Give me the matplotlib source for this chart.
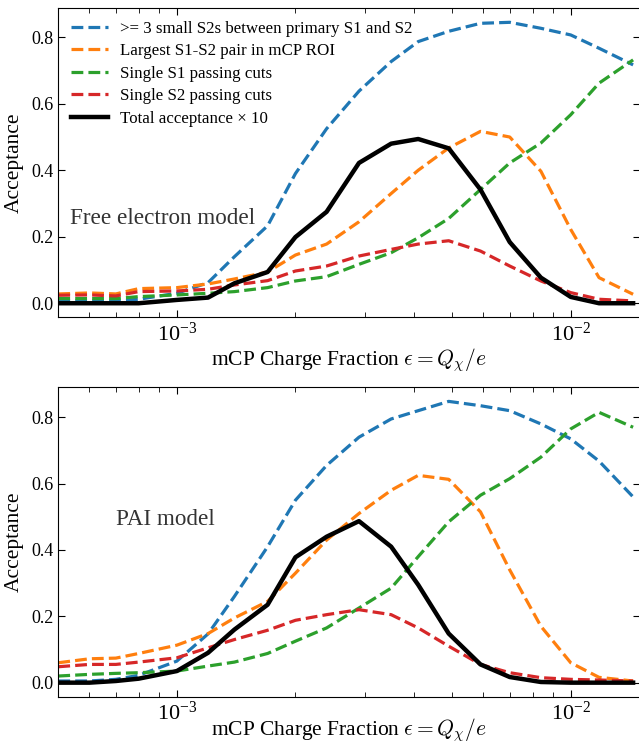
import matplotlib
matplotlib.use("Agg")
import matplotlib.pyplot as plt

plt.rcParams['font.family'] = 'serif'
plt.rcParams['font.serif'] = ['Liberation Serif', 'DejaVu Serif']
plt.rcParams['mathtext.fontset'] = 'cm'

# mCP charge fraction grid
eps = [0.0005, 0.0006, 0.0007, 0.0008, 0.001, 0.0012, 0.0014, 0.0017, 0.002, 0.0024,
       0.0029, 0.0035, 0.0041, 0.0049, 0.0059, 0.007, 0.0084, 0.01, 0.0118, 0.0144]

labels = [">= 3 small S2s between primary S1 and S2",
          "Largest S1-S2 pair in mCP ROI",
          "Single S1 passing cuts",
          "Single S2 passing cuts",
          "Total acceptance × 10"]

# free electron model
blue_fe = [0.007, 0.007, 0.007, 0.012, 0.03, 0.062, 0.14, 0.233, 0.39, 0.525,
           0.638, 0.727, 0.787, 0.818, 0.842, 0.845, 0.827, 0.807, 0.767, 0.717]
orange_fe = [0.028, 0.031, 0.028, 0.044, 0.047, 0.058, 0.073, 0.094, 0.145, 0.178,
             0.245, 0.33, 0.40, 0.467, 0.517, 0.50, 0.397, 0.222, 0.077, 0.027]
green_fe = [0.014, 0.014, 0.014, 0.02, 0.025, 0.03, 0.035, 0.047, 0.067, 0.08,
            0.117, 0.152, 0.197, 0.255, 0.342, 0.422, 0.482, 0.567, 0.662, 0.732]
red_fe = [0.024, 0.025, 0.022, 0.035, 0.037, 0.042, 0.055, 0.068, 0.097, 0.112,
          0.142, 0.162, 0.178, 0.188, 0.157, 0.112, 0.067, 0.032, 0.012, 0.007]
total_fe = [0.0, 0.0, 0.0, 0.0, 0.01, 0.017, 0.06, 0.094, 0.199, 0.275,
            0.422, 0.48, 0.494, 0.466, 0.342, 0.184, 0.077, 0.019, 0.0, 0.0]

# PAI model
blue_pai = [0.005, 0.005, 0.01, 0.022, 0.065, 0.147, 0.26, 0.41, 0.55, 0.655,
            0.74, 0.795, 0.82, 0.848, 0.835, 0.82, 0.78, 0.735, 0.668, 0.56]
orange_pai = [0.06, 0.072, 0.074, 0.088, 0.113, 0.148, 0.195, 0.245, 0.33, 0.43,
              0.51, 0.58, 0.625, 0.613, 0.515, 0.34, 0.17, 0.06, 0.016, 0.005]
green_pai = [0.02, 0.025, 0.028, 0.03, 0.035, 0.05, 0.062, 0.088, 0.125, 0.165,
             0.225, 0.285, 0.38, 0.485, 0.565, 0.615, 0.68, 0.765, 0.815, 0.77]
red_pai = [0.048, 0.055, 0.055, 0.062, 0.075, 0.105, 0.13, 0.158, 0.188, 0.205,
           0.22, 0.205, 0.165, 0.11, 0.055, 0.03, 0.015, 0.01, 0.008, 0.005]
total_pai = [0.0, 0.0, 0.005, 0.012, 0.035, 0.09, 0.16, 0.235, 0.378, 0.44,
             0.487, 0.41, 0.295, 0.148, 0.055, 0.017, 0.002, 0.0, 0.0, 0.0]


def draw_panel(ax, curves, model_text, text_pos, legend=False, xlabelpad=0.5):
    colors = ['C0', 'C1', 'C2', 'C3']
    for c, y, lab in zip(colors, curves[:4], labels[:4]):
        ax.plot(eps, y, '--', color=c, lw=2.3, label=lab)
    ax.plot(eps, curves[4], '-', color='k', lw=3.2, label=labels[4])

    ax.set_xscale('log')
    ax.set_xlim(5e-4, 1.5e-2)
    ax.set_ylabel('Acceptance', fontsize=15.5, labelpad=5)
    ax.set_xlabel(r'mCP Charge Fraction $\epsilon = Q_\chi/e$', fontsize=15.5,
                  labelpad=xlabelpad)
    ax.tick_params(which='both', direction='in', top=True, right=True)
    ax.tick_params(axis='y', labelsize=13)
    ax.tick_params(axis='x', labelsize=16, pad=3.5)
    ax.tick_params(which='major', length=4.8)
    ax.tick_params(which='minor', length=3.5)
    ax.text(text_pos[0], text_pos[1], model_text, transform=ax.transAxes,
            fontsize=16.7, va='center', ha='left', color='#333333')
    if legend:
        ax.legend(loc='upper left', frameon=False, fontsize=12.2,
                  handlelength=2.2, handletextpad=0.7, labelspacing=0.38,
                  borderaxespad=0.35)


fig = plt.figure(figsize=(6.39, 7.45), dpi=100)
ax1 = fig.add_axes([0.0912, 0.5741, 0.9105, 0.4148])
ax2 = fig.add_axes([0.0912, 0.0648, 0.9105, 0.4153])

draw_panel(ax1, [blue_fe, orange_fe, green_fe, red_fe, total_fe],
           'Free electron model', (0.02, 0.321), legend=True)
draw_panel(ax2, [blue_pai, orange_pai, green_pai, red_pai, total_pai],
           'PAI model', (0.10, 0.573), xlabelpad=-6.0)

plt.savefig('out.png', dpi=100)
